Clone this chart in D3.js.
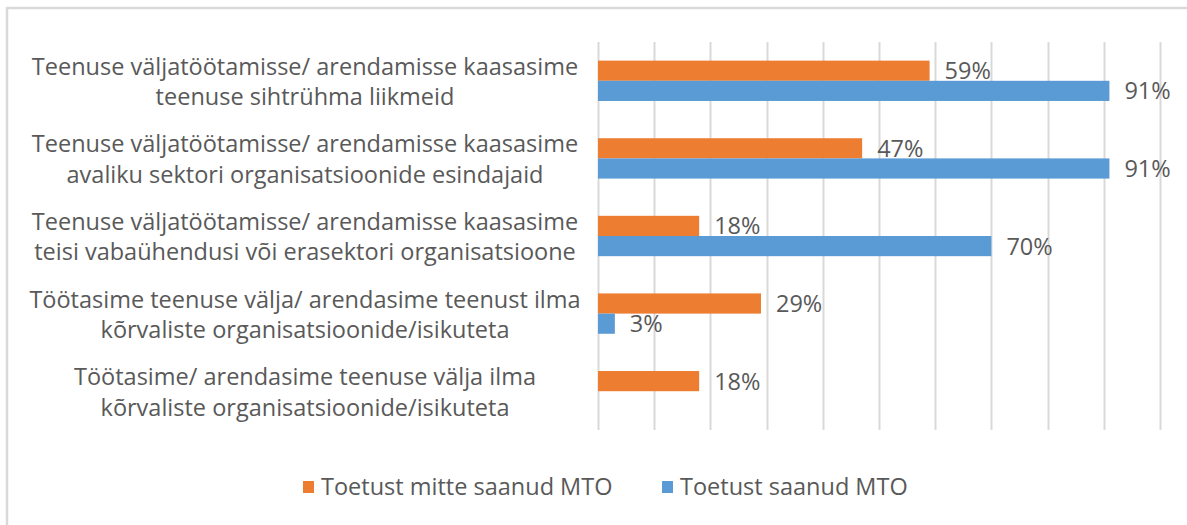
<!DOCTYPE html>
<html>
<head>
<meta charset="utf-8">
<script src="https://cdn.jsdelivr.net/npm/d3@7"></script>
<style>
  body { margin: 0; background: #ffffff; }
  svg text { font-family: "Open Sans", sans-serif; fill: #595959; }
</style>
</head>
<body>
<div id="chart"></div>
<script>
// categories, each label split in two lines
const categories = [
    ["Teenuse väljatöötamisse/ arendamisse kaasasime", "teenuse sihtrühma liikmeid"],
    ["Teenuse väljatöötamisse/ arendamisse kaasasime", "avaliku sektori organisatsioonide esindajaid"],
    ["Teenuse väljatöötamisse/ arendamisse kaasasime", "teisi vabaühendusi või erasektori organisatsioone"],
    ["Töötasime teenuse välja/ arendasime teenust ilma", "kõrvaliste organisatsioonide/isikuteta"],
    ["Töötasime/ arendasime teenuse välja ilma", "kõrvaliste organisatsioonide/isikuteta"]
];
const seriesNames = ["Toetust mitte saanud MTO", "Toetust saanud MTO"];
const notSupported = [0.59, 0.47, 0.18, 0.29, 0.18];
const supported = [0.91, 0.91, 0.70, 0.03, null];
const xTicks = [0, 0.1, 0.2, 0.3, 0.4, 0.5, 0.6, 0.7, 0.8, 0.9, 1.0];

const colors = ["#ED7D31", "#5B9BD5"];
const fontSize = "23.5px";

function drawChart() {
    const width = 1187;
    const height = 525;
    const svg = d3.select("#chart").append("svg")
        .attr("width", width)
        .attr("height", height);

    // marco gris del gráfico (solo izquierda y arriba se ven)
    svg.append("rect")
        .attr("x", 7).attr("y", 8)
        .attr("width", width + 20).attr("height", height + 20)
        .attr("fill", "none")
        .attr("stroke", "#d9d9d9")
        .attr("stroke-width", 2.5);

    const plot = { left: 598, right: 1160, top: 42, bottom: 430 };

    const x = d3.scaleLinear().domain([0, 1]).range([plot.left, plot.right]);
    const y = d3.scaleBand()
        .domain(d3.range(categories.length))
        .range([plot.top, plot.bottom])
        .paddingInner(0.48)
        .paddingOuter(0.24);
    const sub = d3.scaleBand().domain([0, 1]).range([0, y.bandwidth()]);

    // líneas verticales de la cuadrícula
    svg.append("g")
        .selectAll("line")
        .data(xTicks)
        .enter().append("line")
        .attr("x1", d => Math.round(x(d)) + 0.5)
        .attr("x2", d => Math.round(x(d)) + 0.5)
        .attr("y1", plot.top)
        .attr("y2", plot.bottom)
        .attr("stroke", "#d9d9d9")
        .attr("stroke-width", 2);

    const series = [notSupported, supported];

    series.forEach((values, s) => {
        const rows = values.map((v, i) => ({ i: i, v: v })).filter(d => d.v !== null);

        svg.append("g").selectAll("rect")
            .data(rows)
            .enter().append("rect")
            .attr("x", x(0))
            .attr("y", d => y(d.i) + sub(s))
            .attr("width", d => x(d.v) - x(0))
            .attr("height", sub.bandwidth())
            .attr("fill", colors[s]);

        svg.append("g").selectAll("text")
            .data(rows)
            .enter().append("text")
            .attr("x", d => x(d.v) + 15)
            .attr("y", d => y(d.i) + sub(s) + sub.bandwidth() / 2)
            .attr("dy", "0.36em")
            .style("font-size", fontSize)
            .text(d => Math.round(d.v * 100) + "%");
    });

    // etiquetas de categorías, centradas en dos líneas
    const labels = svg.append("g").selectAll("text")
        .data(categories)
        .enter().append("text")
        .attr("text-anchor", "middle")
        .style("font-size", fontSize);

    labels.selectAll("tspan")
        .data((d, i) => d.map((t, j) => ({ t: t, i: i, j: j })))
        .enter().append("tspan")
        .attr("x", 305)
        .attr("y", d => y(d.i) + y.bandwidth() / 2 + (d.j === 0 ? -14.5 : 16))
        .attr("dy", "0.36em")
        .text(d => d.t);

    // leyenda
    const legendX = [303, 662];
    const legend = svg.append("g").selectAll("g")
        .data(seriesNames)
        .enter().append("g")
        .attr("transform", (d, i) => `translate(${legendX[i]},487)`);

    legend.append("rect")
        .attr("x", 0).attr("y", -6)
        .attr("width", 11).attr("height", 12)
        .attr("fill", (d, i) => colors[i]);

    legend.append("text")
        .attr("x", 18)
        .attr("dy", "0.36em")
        .style("font-size", fontSize)
        .text(d => d);
}

drawChart();
</script>
</body>
</html>
